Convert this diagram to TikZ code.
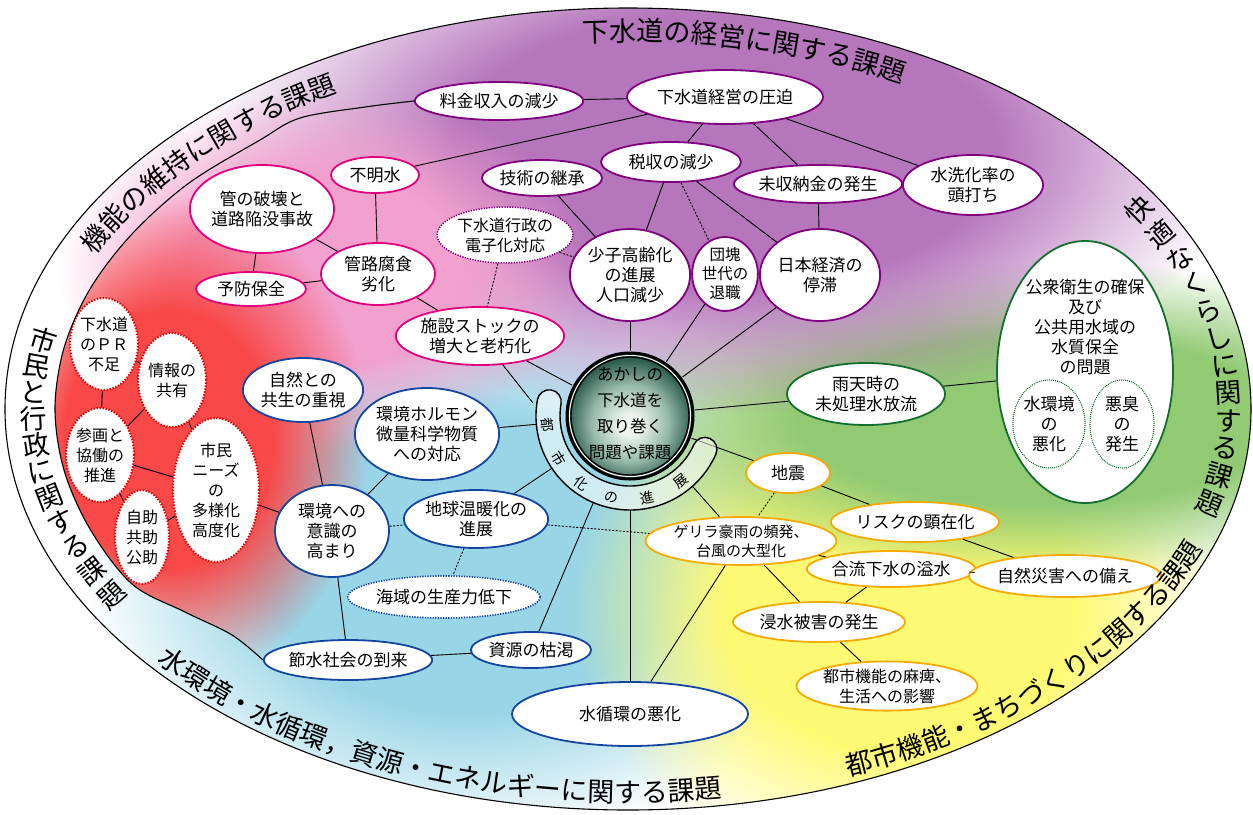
\documentclass[tikz,border=0pt]{standalone}
\usepackage{fontspec}
\setmainfont{Noto Sans CJK JP}
\usetikzlibrary{shapes.geometric,decorations.text,fadings}
\definecolor{cPur}{RGB}{128,0,128}
\definecolor{cPink}{RGB}{225,0,125}
\definecolor{cRed}{RGB}{235,0,0}
\definecolor{cBlue}{RGB}{20,70,160}
\definecolor{cGreen}{RGB}{20,110,45}
\definecolor{cYel}{RGB}{245,170,0}
\definecolor{bgPur}{RGB}{182,118,188}
\definecolor{bgPink}{RGB}{242,160,205}
\definecolor{bgRed}{RGB}{248,72,72}
\definecolor{bgBlue}{RGB}{152,213,230}
\definecolor{bgYel}{RGB}{255,250,115}
\definecolor{bgGreen}{RGB}{145,202,115}
\definecolor{coreA}{RGB}{238,244,240}
\definecolor{coreB}{RGB}{150,185,170}
\definecolor{coreC}{RGB}{38,86,72}
\pgfdeclareradialshading{fuzzyshade}{\pgfpointorigin}{color(0bp)=(white); color(13bp)=(white); color(25bp)=(black); color(50bp)=(black)}
\pgfdeclarefading{fuzzy}{\pgfuseshading{fuzzyshade}}
\pgfdeclareradialshading{coreshade}{\pgfpoint{0bp}{-4bp}}{color(0bp)=(coreA); color(4bp)=(coreA); color(15bp)=(coreB); color(25bp)=(coreC); color(50bp)=(coreC)}
\newcommand\lblf{\fontsize{27}{27}\selectfont}
\newcommand\ndf{\fontsize{17}{20}\selectfont}
\begin{document}
\begin{tikzpicture}[x=1pt,y=-1pt,
  nd/.style={ellipse, fill=white, line width=1.8pt, inner sep=0pt, align=center, font=\ndf},
  wh/.style 2 args={minimum width=#1, minimum height=#2},
  pur/.style={nd, draw=cPur},
  purd/.style={nd, draw=cPur, line width=1.5pt, dash pattern=on 1.3pt off 1.3pt},
  pnk/.style={nd, draw=cPink},
  redd/.style={nd, draw=cRed, line width=2pt, dash pattern=on 1.5pt off 1.5pt, font=\fontsize{16}{20}\selectfont},
  blu/.style={nd, draw=cBlue},
  blud/.style={nd, draw=cBlue, line width=1.6pt, dash pattern=on 1.3pt off 1.3pt},
  grn/.style={nd, draw=cGreen},
  grnd/.style={nd, draw=cGreen, line width=1.1pt, dash pattern=on 1pt off 1pt},
  yel/.style={nd, draw=cYel},
  cl/.style={draw=black, line width=0.9pt},
  cd/.style={draw=black, line width=0.9pt, dash pattern=on 2pt off 1.6pt},
  lblc/.style={inner sep=0pt, font=\lblf},
  bandch/.style={inner sep=0pt, font=\fontsize{14}{14}\selectfont},
  lbldeco/.style={decorate, decoration={text along path, text={|\lblf|#1}}}
]
\useasboundingbox (0,0) rectangle (1253,814);
\fill[white] (0,0) rectangle (1253,814);
% background blobs
\begin{scope}
\clip (628,409) ellipse[x radius=623, y radius=401];
\fill[bgBlue, path fading=fuzzy] (465,565) ellipse[x radius=380, y radius=280];
\fill[bgYel, path fading=fuzzy] (900,610) ellipse[x radius=330, y radius=270];
\fill[bgGreen, path fading=fuzzy] (1040,420) ellipse[x radius=460, y radius=160];
\fill[bgPur, path fading=fuzzy] (725,150) ellipse[x radius=520, y radius=265];
\fill[bgPink, path fading=fuzzy] (325,270) ellipse[x radius=265, y radius=180];
\begin{scope}
\clip plot[smooth, tension=0.55] coordinates {(430,101) (365,107) (300,118) (260,140) (189,183) (132,234) (90,289) (64,348) (55,409) (64,470) (90,529) (132,584) (185,612) (232,635) (264,660)} -- (700,700) -- (700,90) -- cycle;
\fill[bgRed, path fading=fuzzy] (168,440) ellipse[x radius=200, y radius=245];
\end{scope}
\end{scope}
\draw[line width=1.1pt] (628,409) ellipse[x radius=623, y radius=401];

% nodes: purple
\node[pur, wh={196}{54}] (keiei) at (725,97) {下水道経営の圧迫};
\node[pur, wh={138}{38}] (ryokin) at (499,101) {料金収入の減少};
\node[pur, wh={140}{40}] (zeishu) at (671,162) {税収の減少};
\node[pur, wh={116}{36}] (gijutsu) at (542,178) {技術の継承};
\node[pur, wh={140}{38}] (mishu) at (818,184) {未収納金の発生};
\node[pur, wh={140}{60}] (suisen) at (973,185) {水洗化率の\\頭打ち};
\node[purd, wh={108}{56}, font=\fontsize{16}{20}\selectfont] (denshi) at (505,235) {下水道行政の\\電子化対応};
\node[pur, wh={114}{92}] (shoshi) at (630,275) {少子高齢化\\の進展\\人口減少};
\node[pur, wh={50}{64}, font=\fontsize{15.5}{19}\selectfont] (dankai) at (725,274) {団塊\\世代の\\退職};
\node[pur, wh={114}{92}] (nihon) at (820,275) {日本経済の\\停滞};
% pink
\node[pnk, wh={88}{36}] (fumei) at (375,175) {不明水};
\node[pnk, wh={110}{88}] (hakai) at (262,209) {管の破壊と\\道路陥没事故};
\node[pnk, wh={114}{62}] (fushoku) at (378,274) {管路腐食\\劣化};
\node[pnk, wh={110}{34}] (yobo) at (251,289) {予防保全};
\node[pnk, wh={142}{58}] (shisetsu) at (480,336) {施設ストックの\\増大と老朽化};
% red
\node[redd, wh={52}{92}] (pr) at (104,344) {下水道\\のＰＲ\\不足};
\node[redd, wh={56}{94}] (joho) at (172,380) {情報の\\共有};
\node[redd, wh={56}{94}] (sankaku) at (100,455) {参画と\\協働の\\推進};
\node[redd, wh={86}{144}] (needs) at (216,490) {市民\\ニーズ\\の\\多様化\\高度化};
\node[redd, wh={54}{94}] (jijo) at (142,537) {自助\\共助\\公助};
% blue
\node[blu, wh={108}{64}] (shizen) at (303,390) {自然との\\共生の重視};
\node[blu, wh={132}{92}] (horumon) at (427,434) {環境ホルモン\\微量科学物質\\への対応};
\node[blu, wh={114}{92}] (ishiki) at (332,531) {環境への\\意識の\\高まり};
\node[blu, wh={126}{58}] (ondan) at (476,519) {地球温暖化の\\進展};
\node[blud, wh={166}{42}] (kaiiki) at (444,597) {海域の生産力低下};
\node[blu, wh={168}{40}] (sessui) at (348,660) {節水社会の到来};
\node[blu, wh={116}{36}] (shigen) at (531,650) {資源の枯渇};
\node[blu, wh={236}{64}] (junkan) at (630,714) {水循環の悪化};
% green
\node[grn, wh={158}{62}] (uten) at (866,394) {雨天時の\\未処理水放流};
\node[grn, wh={176}{262}] (koshu) at (1085,372) {};
\node[inner sep=0pt, align=center, font=\ndf] (koshutxt) at (1085,327) {公衆衛生の確保\\及び\\公共用水域の\\水質保全\\の問題};
\node[grnd, wh={64}{88}] (kankyo) at (1049,424) {水環境\\の\\悪化};
\node[grnd, wh={64}{88}] (akushu) at (1122,424) {悪臭\\の\\発生};
% yellow
\node[yel, wh={84}{40}] (jishin) at (788,473) {地震};
\node[yel, wh={144}{40}] (risk) at (915,522) {リスクの顕在化};
\node[yel, wh={158}{48}, font=\fontsize{15}{19}\selectfont] (guerrilla) at (741,541) {ゲリラ豪雨の頻発、\\台風の大型化};
\node[yel, wh={156}{36}] (goryu) at (891,569) {合流下水の溢水};
\node[yel, wh={144}{42}] (saigai) at (1065,576) {自然災害への備え};
\node[yel, wh={172}{40}] (shinsui) at (819,622) {浸水被害の発生};
\node[yel, wh={158}{48}, font=\fontsize{16}{20}\selectfont] (toshi) at (887,686) {都市機能の麻痺、\\生活への影響};

% core helpers
\node[circle, minimum size=128, inner sep=0pt, line width=3pt] (core) at (630,416) {};
\node[circle, minimum size=188, inner sep=0pt] (bandc) at (630,416) {};
\coordinate (bandtip) at (533,403);

% inner boundary curve
\draw[line width=1.1pt] plot[smooth, tension=0.55] coordinates {(ryokin.west) (365,107) (300,118) (260,140) (189,183) (132,234) (90,289) (64,348) (55,409) (64,470) (90,529) (132,584) (185,612) (232,635) (sessui.west)};

% connectors
\draw[cl] (ryokin) -- (keiei);
\draw[cl] (keiei) -- (fumei);
\draw[cl] (keiei) -- (zeishu);
\draw[cl] (keiei) -- (mishu);
\draw[cl] (keiei) -- (suisen);
\draw[cl] (zeishu) -- (shoshi);
\draw[cd] (zeishu) -- (dankai);
\draw[cl] (zeishu) -- (nihon);
\draw[cl] (gijutsu) -- (shoshi);
\draw[cl] (mishu) -- (nihon);
\draw[cd] (denshi) -- (shoshi);
\draw[cd] (denshi) -- (shisetsu);
\draw[cl] (shoshi) -- (core);
\draw[cl] (dankai) -- (core);
\draw[cl] (nihon) -- (core);
\draw[cl] (shisetsu) -- (core);
\draw[cl] (shisetsu) -- (bandtip);
\draw[cl] (fushoku) -- (shisetsu);
\draw[cl] (fumei) -- (fushoku);
\draw[cl] (hakai) -- (fushoku);
\draw[cl] (hakai) -- (yobo);
\draw[cl] (yobo) -- (fushoku);
\draw[cl] (pr) -- (joho);
\draw[cl] (pr) -- (sankaku);
\draw[cl] (joho) -- (sankaku);
\draw[cl] (joho) -- (needs);
\draw[cl] (sankaku) -- (needs);
\draw[cl] (sankaku) -- (jijo);
\draw[cl] (jijo) -- (needs);
\draw[cl] (needs) -- (ishiki);
\draw[cl] (shizen) -- (ishiki);
\draw[cl] (horumon) -- (ishiki);
\draw[cl] (horumon) -- (bandc);
\draw[cd] (ishiki) -- (ondan);
\draw[cl] (ondan) -- (bandc);
\draw[cd] (ondan) -- (guerrilla);
\draw[cd] (ondan) -- (kaiiki);
\draw[cl] (ishiki) -- (sessui);
\draw[cl] (sessui) -- (shigen);
\draw[cl] (shigen) -- (bandc);
\draw[cl] (junkan) -- (bandc);
\draw[cl] (guerrilla) -- (junkan);
\draw[cl] (core) -- (jishin);
\draw[cd] (jishin) -- (guerrilla);
\draw[cl] (jishin) -- (risk);
\draw[cl] (guerrilla) -- (bandc);
\draw[cl] (guerrilla) -- (goryu);
\draw[cl] (guerrilla) -- (shinsui);
\draw[cl] (goryu) -- (shinsui);
\draw[cl] (goryu) -- (saigai);
\draw[cl] (risk) -- (saigai);
\draw[cl] (shinsui) -- (toshi);
\draw[cl] (core) -- (uten);
\draw[cl] (uten) -- (koshu);

% band
\begin{scope}[shift={(630,416)}]
\draw[line width=1.4pt, fill=white, fill opacity=0.55] (190:94) arc[start angle=190, end angle=24, radius=94] arc[start angle=24, end angle=-156, radius=12] arc[start angle=24, end angle=190, radius=70] arc[start angle=10, end angle=-170, radius=12] -- cycle;
\node[bandch, rotate=-84] (b1) at (174:83) {都};
\node[bandch, rotate=-59] (b2) at (149:83) {市};
\node[bandch, rotate=-36] (b3) at (126:83) {化};
\node[bandch, rotate=-13] (b4) at (103:84) {の};
\node[bandch, rotate=12] (b5) at (78:84) {進};
\node[bandch, rotate=38] (b6) at (52:83) {展};
\end{scope}

% core circle
\fill[shading=coreshade] (630,416) circle[radius=64];
\draw[line width=3pt] (630,416) circle[radius=63];
\draw[white, line width=1pt] (630,416) circle[radius=60.5];
\draw[line width=1.4pt] (630,416) circle[radius=59];
\node[inner sep=0pt, align=center, font=\fontsize{16.5}{26}\selectfont] (coretxt) at (630,414) {あかしの\\下水道を\\取り巻く\\問題や課題};

% category labels
\path[lbldeco={下水道の経営に関する課題}] ([shift={(628,409)}]265.6:590 and 368) arc[start angle=265.6, end angle=335, x radius=590, y radius=368];
\path[lbldeco={機能の維持に関する課題}] ([shift={(628,409)}]204.8:587 and 365) arc[start angle=204.8, end angle=262, x radius=587, y radius=365];
\path[lbldeco={水環境・水循環，資源・エネルギーに関する課題}] ([shift={(628,409)}]140:615 and 393) arc[start angle=140, end angle=60, x radius=615, y radius=393];
\path[lbldeco={都市機能・まちづくりに関する課題}] ([shift={(628,409)}]69:615 and 393) arc[start angle=69, end angle=5, x radius=615, y radius=393];
\begin{scope}[shift={(628,409)}]
\foreach \c [count=\i from 0] in {市,民,と,行,政,に,関,す,る,課,題}{
  \pgfmathsetmacro\tt{190.6-4.05*\i}
  \pgfmathsetmacro\rr{atan2(-373*cos(\tt),-595*sin(\tt))-90}
  \node[lblc, rotate=\rr] (L\i) at (\tt:595 and 373) {\c};
}
\foreach \c [count=\i from 0] in {快,適,な,く,ら,し,に,関,す,る,課,題}{
  \pgfmathsetmacro\tt{-31.8+4.2*\i}
  \pgfmathsetmacro\rr{atan2(379*cos(\tt),601*sin(\tt))-90}
  \node[lblc, rotate=\rr] (R\i) at (\tt:601 and 379) {\c};
}
\end{scope}
\end{tikzpicture}
\end{document}
